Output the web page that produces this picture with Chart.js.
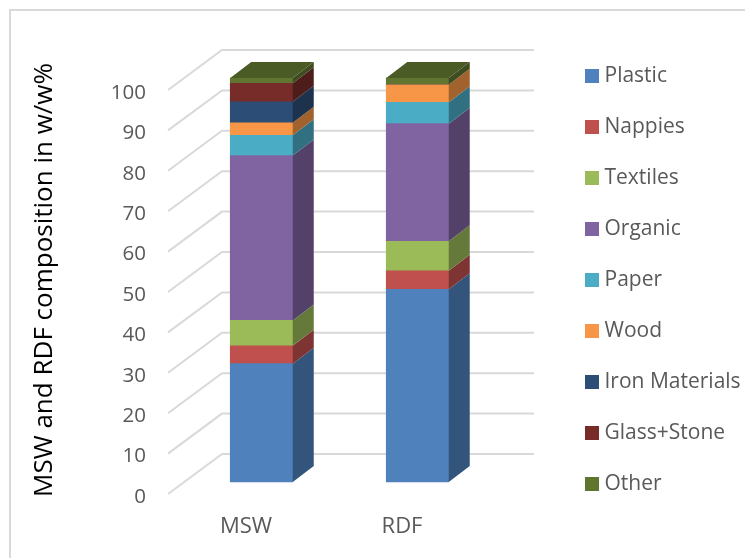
<!DOCTYPE html>
<html>
<head>
<meta charset="utf-8">
<title>MSW and RDF composition</title>
<script src="https://cdn.jsdelivr.net/npm/chart.js@4/dist/chart.umd.min.js"></script>
<style>
  html, body { margin: 0; padding: 0; background: #fff; }
  canvas { display: block; }
</style>
</head>
<body>
<canvas id="chart" width="745" height="558"></canvas>
<script>
// ─── DATA ─────────────────────────────────────────────────
const categories = ['MSW', 'RDF'];
const tickValues = [0, 10, 20, 30, 40, 50, 60, 70, 80, 90, 100];
const materials = ['Plastic', 'Nappies', 'Textiles', 'Organic', 'Paper', 'Wood', 'Iron Materials', 'Glass+Stone', 'Other'];
const mswValues = [29.3, 4.4, 6.3, 40.8, 5.0, 3.1, 5.2, 4.6, 1.3];
const rdfValues = [47.7, 4.6, 7.3, 29.1, 5.3, 4.3, 0, 0, 1.7];
const colours = ['#4F81BD', '#C0504D', '#9BBB59', '#8064A2', '#4BACC6', '#F79646', '#2C4D75', '#772C2A', '#5F7530'];
const axisTitle = 'MSW and RDF composition in w/w%';

// ─── 3D LOOK ──────────────────────────────────────────────
const FONT = '"Open Sans", sans-serif';
const GRID = '#D9D9D9';
const WALL_DX = 54, WALL_DY = -40;   // depth of the side wall
const BAR_DX = 21, BAR_DY = -16;     // depth of one column
const SHIFT_X = 15.5, SHIFT_Y = -12; // columns stand this far behind the front edge

function shade(hex, k) {
    const n = parseInt(hex.slice(1), 16);
    const c = [n >> 16, (n >> 8) & 255, n & 255].map(v => Math.round(v * k));
    return `rgb(${c[0]},${c[1]},${c[2]})`;
}

function poly(ctx, pts, fill) {
    ctx.beginPath();
    pts.forEach((p, i) => i ? ctx.lineTo(p[0], p[1]) : ctx.moveTo(p[0], p[1]));
    ctx.closePath();
    ctx.fillStyle = fill;
    ctx.fill();
}

const depthPlugin = {
    id: 'depth',
    afterLayout(chart) {
        // legend sits further right and higher than the space it reserves
        chart.legend.left += 80;
        chart.legend.right = chart.width;
        chart.legend.top -= 24;
        chart.legend.bottom -= 24;
    },
    beforeDraw(chart) {
        const { ctx } = chart;
        ctx.save();
        ctx.strokeStyle = GRID;
        ctx.lineWidth = 2;
        ctx.beginPath();
        ctx.moveTo(10, 558);
        ctx.lineTo(10, 10);
        ctx.lineTo(745, 10);
        ctx.stroke();
        ctx.restore();
    },
    beforeDatasetsDraw(chart) {
        const { ctx, chartArea, scales } = chart;
        ctx.save();
        ctx.strokeStyle = GRID;
        ctx.lineWidth = 2;
        const backRight = chartArea.right + WALL_DX;
        tickValues.forEach(v => {
            const y = scales.y.getPixelForValue(v);
            ctx.beginPath();
            ctx.moveTo(chartArea.left, y);
            ctx.lineTo(chartArea.left + WALL_DX, y + WALL_DY);
            ctx.lineTo(backRight, y + WALL_DY);
            ctx.stroke();
        });
        ctx.restore();
        ctx.save();
        ctx.translate(SHIFT_X, SHIFT_Y);
    },
    afterDatasetsDraw(chart) {
        const { ctx } = chart;
        categories.forEach((c, col) => {
            let top = null;
            chart.data.datasets.forEach((ds, i) => {
                if (!ds.data[col]) return;
                const bar = chart.getDatasetMeta(i).data[col];
                const right = bar.x + bar.width / 2;
                poly(ctx, [
                    [right, bar.y], [right + BAR_DX, bar.y + BAR_DY],
                    [right + BAR_DX, bar.base + BAR_DY], [right, bar.base],
                ], shade(colours[i], 0.65));
                top = { bar, colour: colours[i] };
            });
            const left = top.bar.x - top.bar.width / 2;
            const right = top.bar.x + top.bar.width / 2;
            poly(ctx, [
                [left, top.bar.y], [right, top.bar.y],
                [right + BAR_DX, top.bar.y + BAR_DY], [left + BAR_DX, top.bar.y + BAR_DY],
            ], shade(top.colour, 0.78));
        });
        ctx.restore();
    },
    afterDraw(chart) {
        const { ctx } = chart;
        ctx.save();
        ctx.translate(45, 280);
        ctx.rotate(-Math.PI / 2);
        ctx.font = `26px ${FONT}`;
        ctx.fillStyle = '#000';
        ctx.textAlign = 'center';
        ctx.textBaseline = 'middle';
        ctx.fillText(axisTitle, 0, 0);
        ctx.restore();
    },
};

new Chart(document.getElementById('chart'), {
    type: 'bar',
    data: {
        labels: categories,
        datasets: materials.map((name, i) => ({
            label: name,
            data: [mswValues[i], rdfValues[i]],
            backgroundColor: colours[i],
            borderWidth: 0,
            clip: false,
            barThickness: 62.5,
        })),
    },
    options: {
        responsive: false,
        animation: false,
        layout: { padding: { left: 0, right: 105, top: 50, bottom: 0 } },
        plugins: {
            tooltip: { enabled: false },
            legend: {
                position: 'right',
                labels: {
                    color: '#595959',
                    font: { family: FONT, size: 21 },
                    boxWidth: 4,
                    boxHeight: 4,
                    padding: 30,
                    generateLabels: chart => chart.data.datasets.map((ds, i) => ({
                        text: ds.label,
                        fillStyle: colours[i],
                        strokeStyle: colours[i],
                        lineWidth: 10,
                        fontColor: '#595959',
                        datasetIndex: i,
                    })),
                },
            },
        },
        scales: {
            x: {
                stacked: true,
                grid: { display: false },
                border: { display: false },
                afterFit(scale) { scale.height = 64; },
                ticks: { color: '#595959', font: { family: FONT, size: 22 }, padding: 12 },
            },
            y: {
                stacked: true,
                min: 0,
                max: 109.9,
                grid: { display: false },
                border: { display: false },
                afterFit(scale) { scale.width = 168; },
                afterBuildTicks(scale) { scale.ticks = tickValues.map(value => ({ value })); },
                ticks: { color: '#595959', font: { family: FONT, size: 20.5 }, padding: 14, labelOffset: 3 },
            },
        },
    },
    plugins: [depthPlugin],
});
</script>
</body>
</html>
